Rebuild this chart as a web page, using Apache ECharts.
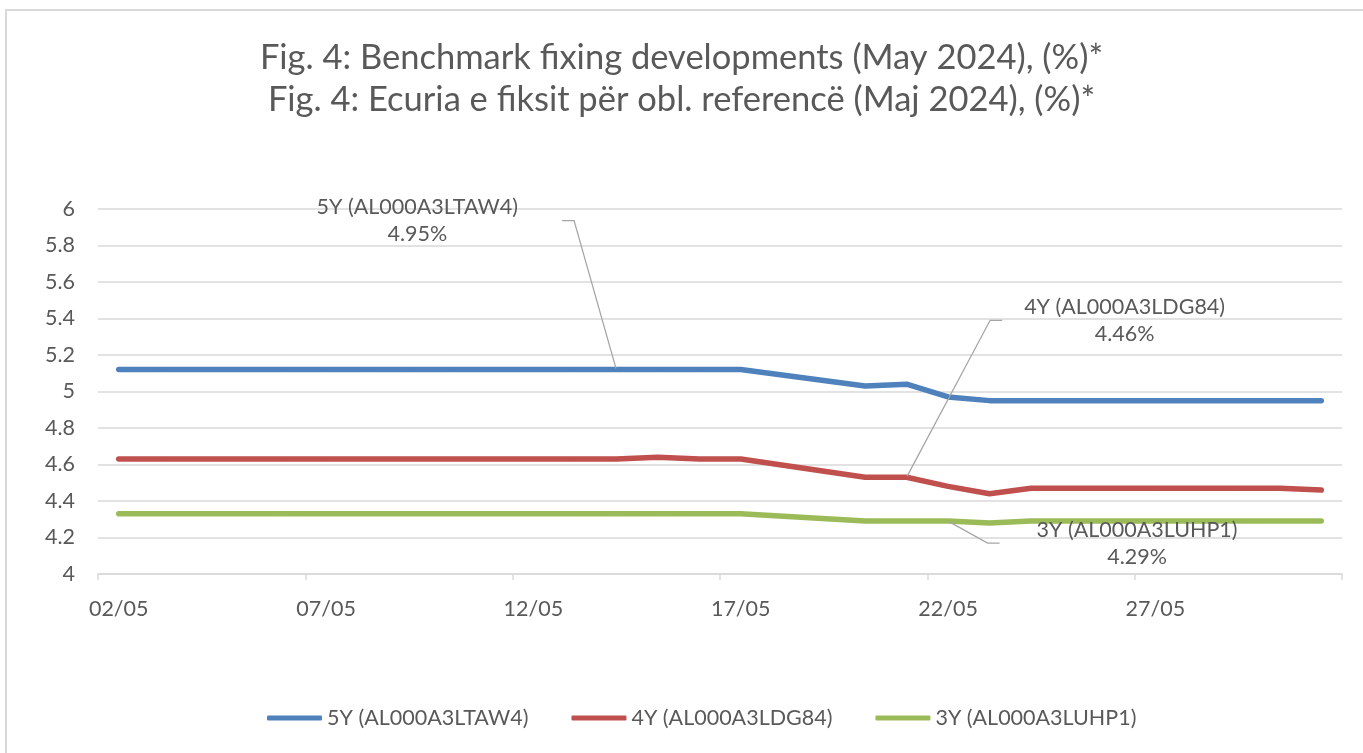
<!DOCTYPE html>
<html>
<head>
<meta charset="utf-8">
<script src="https://cdn.jsdelivr.net/npm/echarts@6/dist/echarts.min.js"></script>
<style>
  html, body { margin: 0; padding: 0; background: #fff; }
  #frame { position: absolute; left: 5px; top: 9px; width: 1400px; height: 800px; border-left: 2px solid #d9d9d9; border-top: 2px solid #d9d9d9; }
  #chart { position: absolute; left: 0; top: 0; width: 1363px; height: 753px; }
</style>
</head>
<body>
<div id="frame"></div>
<div id="chart"></div>
<script>
// Category axis: every calendar day shown on the date axis
const allDays = ['02/05','03/05','04/05','05/05','06/05','07/05','08/05','09/05','10/05','11/05',
                 '12/05','13/05','14/05','15/05','16/05','17/05','18/05','19/05','20/05','21/05',
                 '22/05','23/05','24/05','25/05','26/05','27/05','28/05','29/05','30/05','31/05'];
// Fixing dates (business days)
const fixDays = ['02/05','03/05','06/05','07/05','08/05','09/05','10/05','13/05','14/05','15/05','16/05',
                 '17/05','20/05','21/05','22/05','23/05','24/05','27/05','28/05','29/05','30/05','31/05'];
const seriesNames = ['5Y (AL000A3LTAW4)', '4Y (AL000A3LDG84)', '3Y (AL000A3LUHP1)'];
const y5 = [5.12,5.12,5.12,5.12,5.12,5.12,5.12,5.12,5.12,5.12,5.12,5.12,5.03,5.04,4.97,4.95,4.95,4.95,4.95,4.95,4.95,4.95];
const y4 = [4.63,4.63,4.63,4.63,4.63,4.63,4.63,4.63,4.63,4.64,4.63,4.63,4.53,4.53,4.48,4.44,4.47,4.47,4.47,4.47,4.47,4.46];
const y3 = [4.33,4.33,4.33,4.33,4.33,4.33,4.33,4.33,4.33,4.33,4.33,4.33,4.29,4.29,4.29,4.28,4.29,4.29,4.29,4.29,4.29,4.29];
const colors = ['#4F81BD', '#C0504D', '#9BBB59'];
// Day on which each series' callout is anchored
const calloutDays = ['14/05', '21/05', '22/05'];
const titleLines = ['Fig. 4: Benchmark fixing developments (May 2024), (%)*',
                    'Fig. 4: Ecuria e fiksit për obl. referencë (Maj 2024), (%)*'];
const yTicks = { min: 4, max: 6, step: 0.2 };

const FONT = 'Lato, "Open Sans", sans-serif';
const TXT = '#595959';
const FS = 21.5;

// label layout (offset of callout from anchor point, px) and padding of its box
const calloutLayout = [
  { dx: -199, dy: -149, pad: 44 },
  { dx: 218, dy: -157, pad: 22 },
  { dx: 189, dy: 22, pad: 37 }
];

const allValues = [y5, y4, y3];
const series = allValues.map((vals, si) => {
  const last = vals[vals.length - 1];
  return {
    name: seriesNames[si],
    type: 'line',
    symbol: 'circle',
    symbolSize: 2,
    showSymbol: true,
    showAllSymbol: true,
    itemStyle: { color: colors[si] },
    lineStyle: { width: 5.5, color: colors[si], cap: 'round', join: 'round' },
    emphasis: { disabled: true },
    label: { show: false },
    labelLine: { show: false },
    data: fixDays.map((d, i) => {
      const item = { value: [d, vals[i]] };
      if (d === calloutDays[si]) {
        const L = calloutLayout[si];
        item.label = {
          show: true,
          position: 'inside',
          formatter: seriesNames[si] + '\n' + last.toFixed(2) + '%',
          color: TXT,
          fontFamily: FONT,
          fontSize: FS,
          lineHeight: 27,
          align: 'center',
          padding: [0, L.pad, 0, L.pad]
        };
        item.labelLine = { show: true, length2: 12, lineStyle: { color: '#a6a6a6', width: 1.3 } };
      }
      return item;
    }),
    labelLayout: function (p) {
      const L = calloutLayout[si];
      return { dx: L.dx, dy: L.dy };
    }
  };
});

const titleStyle = { color: TXT, fontFamily: FONT, fontSize: 34.5, fontWeight: 'normal' };
const chart = echarts.init(document.getElementById('chart'), null, { renderer: 'canvas' });
chart.setOption({
  animation: false,
  title: [
    { text: titleLines[0], left: 'center', top: 40, padding: 0, textStyle: titleStyle },
    { text: titleLines[1], left: 'center', top: 82, padding: 0, textStyle: titleStyle }
  ],
  legend: {
    left: 267,
    top: 707,
    padding: 0,
    itemGap: 43,
    itemWidth: 55,
    itemHeight: 5,
    icon: 'roundRect',
    textStyle: { color: TXT, fontFamily: FONT, fontSize: FS },
    data: seriesNames
  },
  grid: { left: 98, right: 21, top: 209, bottom: 179 },
  xAxis: {
    type: 'category',
    data: allDays,
    boundaryGap: true,
    axisLine: { lineStyle: { color: '#d9d9d9', width: 1.5 } },
    axisTick: { show: true, interval: 4, length: 6, lineStyle: { color: '#d9d9d9', width: 1.5 } },
    axisLabel: { interval: 4, color: TXT, fontFamily: FONT, fontSize: FS, margin: 24 },
    splitLine: { show: false }
  },
  yAxis: {
    type: 'value',
    min: yTicks.min,
    max: yTicks.max,
    interval: yTicks.step,
    axisLine: { show: false },
    axisTick: { show: false },
    axisLabel: {
      color: TXT, fontFamily: FONT, fontSize: FS, margin: 23,
      formatter: v => String(parseFloat(v.toFixed(1)))
    },
    splitLine: { lineStyle: { color: '#d9d9d9', width: 1.5 } }
  },
  series: series
});
</script>
</body>
</html>
